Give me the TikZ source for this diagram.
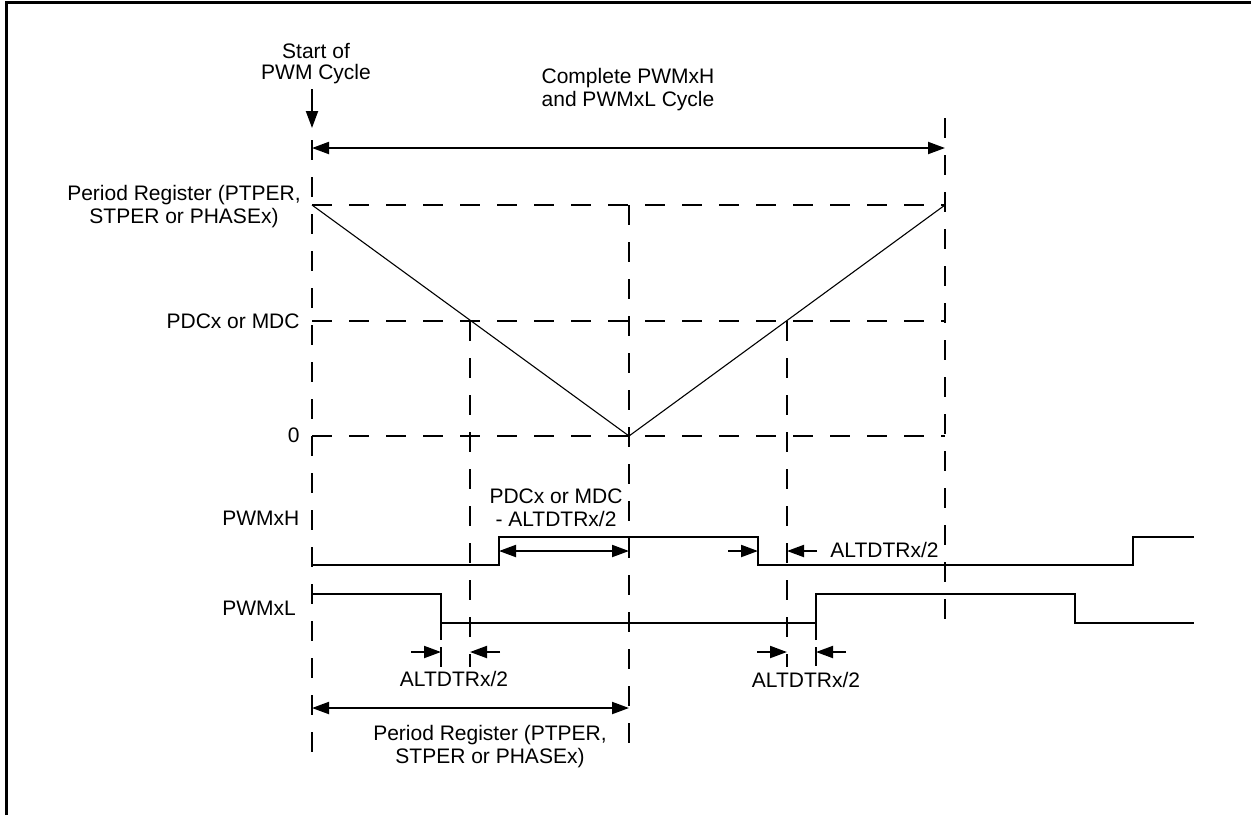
\documentclass[tikz,border=0pt]{standalone}
\usepackage{fontspec}
\setmainfont{Liberation Sans}
\usetikzlibrary{arrows.meta}
\begin{document}
\begin{tikzpicture}[x=0.5pt,y=-0.5pt,
  lbl/.style={font=\fontsize{10.5}{11.5}\selectfont, inner sep=0pt, align=center},
  dsh/.style={line width=1pt, dash pattern=on 10pt off 8.5pt},
  wave/.style={line width=1pt},
  ramp/.style={line width=0.55pt},
  tipp/.style={-{Triangle[length=8.5pt,width=6pt]}},
  arr/.style={line width=1pt, tipp},
  darr/.style={line width=1pt, {Triangle[length=8.5pt,width=6pt]}-{Triangle[length=8.5pt,width=6pt]}},
]
\useasboundingbox (0,0) rectangle (1251,815);
% frame (top and left)
\draw[line width=1.4pt] (6.5,815) -- (6.5,2.5) -- (1251,2.5);

% key coordinates
\coordinate (P0) at (312,205);
\coordinate (Z)  at (629,436);
\coordinate (P1) at (945,205);

% dashed guide lines
\draw[dsh] (312,140) -- (312,753);
\draw[dsh] (629,205) -- (629,753);
\draw[dsh] (945,118) -- (945,630);
\draw[dsh] (470,321) -- (470,667);
\draw[dsh] (787,321) -- (787,667);
\draw[dsh] (312,205) -- (945,205);
\draw[dsh] (312,321) -- (945,321);
\draw[dsh] (312,436) -- (945,436);

% ramp
\draw[ramp] (P0) -- (Z) -- (P1);

% waveforms
\draw[wave] (312,565) -- (499,565) -- (499,537) -- (758,537) -- (758,565) -- (1133,565) -- (1133,537) -- (1194,537);
\draw[wave] (312,594) -- (441,594) -- (441,640);
\draw[wave] (441,622.5) -- (816,622.5);
\draw[wave] (816,640) -- (816,594) -- (1075,594) -- (1075,622.5) -- (1194,622.5);
\draw[wave] (441,647) -- (441,667);
\draw[wave] (816,647) -- (816,666);

% arrows
\coordinate (s0) at (312,89);
\coordinate (s1) at (312,128);
\draw[arr] (s0) -- (s1);
\draw[darr] (312,148) -- (945,148);
\draw[darr] (499,551) -- (629,551);
\draw[arr] (728,551) -- (758,551);
\draw[arr] (817,551) -- (787,551);
\draw[arr] (411,652) -- (441,652);
\draw[arr] (500,652) -- (470,652);
\draw[arr] (757,652) -- (787,652);
\draw[arr] (846,652) -- (816,652);
\draw[darr] (312,708) -- (629,708);

% labels (base = baseline of last line)
\node[lbl, anchor=base, font=\fontsize{10.5}{10.5}\selectfont] (start) at (316,79) {Start of\\PWM Cycle};
\node[lbl, anchor=base] (complete) at (628,106) {Complete PWMxH\\and PWMxL Cycle};
\node[lbl, anchor=base] (perl) at (184,223) {Period Register (PTPER,\\STPER or PHASEx)};
\node[lbl, anchor=base east] (pdc) at (300,328) {PDCx or MDC};
\node[lbl, anchor=base east] (zero) at (300,442) {0};
\node[lbl, anchor=base west] (pwmh) at (222,525.5) {PWMxH};
\node[lbl, anchor=base west] (pwml) at (222,615.5) {PWMxL};
\node[lbl, anchor=base] (pdcalt) at (556,526) {PDCx or MDC\\- ALTDTRx/2};
\node[lbl, anchor=base west] (altr) at (830,557) {ALTDTRx/2};
\node[lbl, anchor=base] (altl1) at (454,686) {ALTDTRx/2};
\node[lbl, anchor=base] (altl2) at (806,687) {ALTDTRx/2};
\node[lbl, anchor=base] (perb) at (490,763) {Period Register (PTPER,\\STPER or PHASEx)};
\end{tikzpicture}
\end{document}
